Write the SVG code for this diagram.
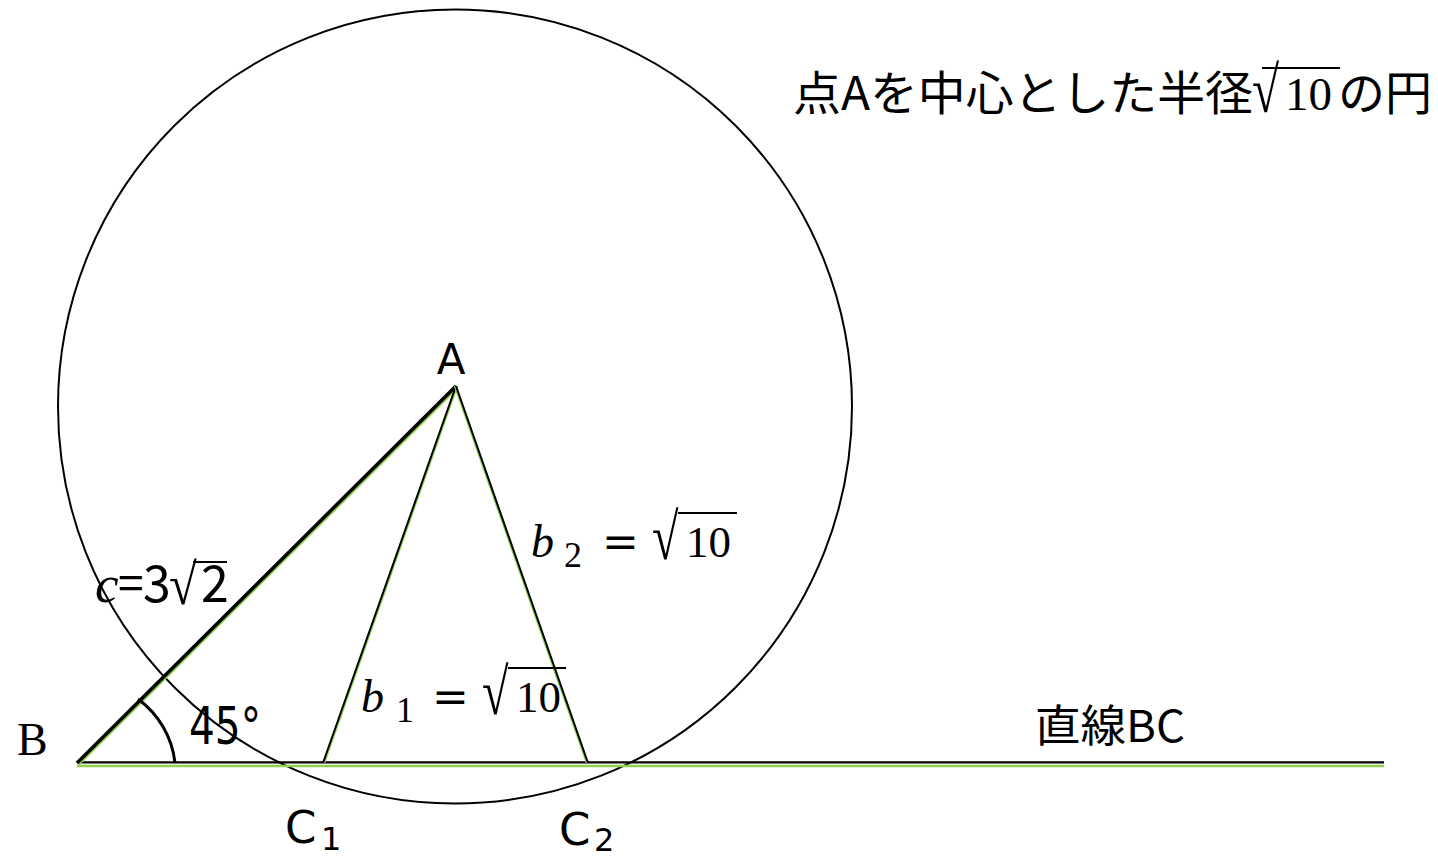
<svg xmlns="http://www.w3.org/2000/svg" width="1438" height="858" viewBox="0 0 1438 858">
<style>
.sans{font-family:"DejaVu Sans","Noto Sans CJK JP",sans-serif;fill:#000}
.cjk{font-family:"Noto Sans CJK JP","DejaVu Sans",sans-serif;fill:#000}
.ser{font-family:"Liberation Serif","DejaVu Serif","Noto Sans CJK JP",serif;fill:#000}
.eq{font-family:"DejaVu Serif","Liberation Serif",serif;fill:#000}
.it{font-style:italic}
.blk{stroke:#000;fill:none}
.grn{stroke:#92D050;fill:none}
.bar{stroke:#000;stroke-width:2}
</style>
<rect width="1438" height="858" fill="#fff"/>
<g id="circle"><circle cx="455" cy="406.5" r="397" class="blk" stroke-width="2"/></g>
<g id="connectors">
  <line x1="77" y1="766" x2="1384" y2="766" class="grn" stroke-width="2.5"/>
  <line x1="77" y1="762.3" x2="1384" y2="762.3" class="blk" stroke-width="2.2"/>
  <line x1="78.5" y1="764.5" x2="457.5" y2="387.5" class="grn" stroke-width="2.5"/>
  <line x1="77" y1="763" x2="456" y2="386" class="blk" stroke-width="3.5"/>
  <line x1="324.2" y1="763" x2="457.2" y2="386" class="grn" stroke-width="2"/>
  <line x1="323" y1="763" x2="456" y2="386" class="blk" stroke-width="2"/>
  <line x1="586.8" y1="763" x2="454.8" y2="386" class="grn" stroke-width="2"/>
  <line x1="588" y1="763" x2="456" y2="386" class="blk" stroke-width="2"/>
  <path d="M 138 699 A 92 92 0 0 1 175 763" class="blk" stroke-width="3"/>
</g>
<g id="title">
  <text class="cjk" font-size="47" x="793" y="110" textLength="460" lengthAdjust="spacingAndGlyphs">点Aを中心とした半径</text>
  <text class="ser" font-size="47" transform="translate(1252,112) scale(1.05,1.38)">√</text>
  <line x1="1262" y1="68" x2="1340" y2="68" class="bar"/>
  <text class="ser" font-size="47" x="1285" y="110">10</text>
  <text class="cjk" font-size="47" x="1338" y="110">の円</text>
</g>
<g id="label-A"><text class="sans" font-size="42" x="451" y="374" text-anchor="middle">A</text></g>
<g id="label-B"><text class="ser" font-size="46" x="17" y="755">B</text></g>
<g id="label-C1">
  <text class="sans" font-size="45" x="285" y="843">C</text>
  <text class="sans" font-size="32" x="321" y="850">1</text>
</g>
<g id="label-C2">
  <text class="sans" font-size="45" x="559" y="845">C</text>
  <text class="sans" font-size="32" x="594" y="851">2</text>
</g>
<g id="label-angle"><text class="sans" font-size="51" x="189" y="744" textLength="72" lengthAdjust="spacingAndGlyphs">45°</text></g>
<g id="label-c">
  <text class="ser it" font-size="53" x="95" y="602">c</text>
  <text class="cjk" font-size="46" x="118" y="600">=</text>
  <text class="cjk" font-size="50" x="143" y="602">3</text>
  <text class="ser" font-size="46" transform="translate(169,604) scale(1.1,1.25)">√</text>
  <line x1="193" y1="562" x2="227" y2="562" class="bar"/>
  <text class="cjk" font-size="50" x="201" y="602">2</text>
</g>
<g id="label-b2">
  <text class="ser it" font-size="46" x="531" y="557">b</text>
  <text class="ser" font-size="36" x="564" y="567">2</text>
  <text class="eq" font-size="44" x="602" y="557">=</text>
  <text class="ser" font-size="46" transform="translate(652,559) scale(1.05,1.42)">√</text>
  <line x1="678" y1="513" x2="737" y2="513" class="bar"/>
  <text class="ser" font-size="45" x="686" y="557">10</text>
</g>
<g id="label-b1">
  <text class="ser it" font-size="46" x="361" y="712">b</text>
  <text class="ser" font-size="36" x="396" y="722">1</text>
  <text class="eq" font-size="44" x="432" y="712">=</text>
  <text class="ser" font-size="46" transform="translate(482,714) scale(1.05,1.42)">√</text>
  <line x1="508" y1="668" x2="566" y2="668" class="bar"/>
  <text class="ser" font-size="45" x="516" y="712">10</text>
</g>
<g id="label-line"><text class="cjk" font-size="44" x="1035" y="742" textLength="150" lengthAdjust="spacingAndGlyphs">直線BC</text></g>
</svg>
